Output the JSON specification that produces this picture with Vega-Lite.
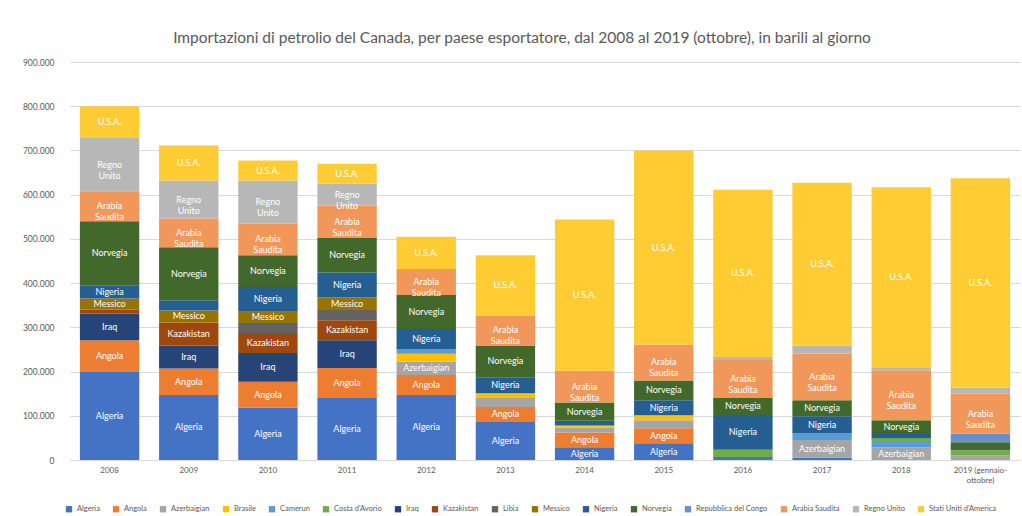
{
  "$schema": "https://vega.github.io/schema/vega-lite/v6.json",
  "autosize": {"type": "none"},
  "width": 950,
  "height": 398,
  "padding": {"left": 70, "top": 62, "right": 2, "bottom": 56},
  "background": "white",
  "config": {
    "locale": {"number": {"decimal": ",", "thousands": ".", "grouping": [3], "currency": ["€", ""]}},
    "font": "Lato",
    "view": {"stroke": null}
  },
  "title": {
    "text": "Importazioni di petrolio del Canada, per paese esportatore, dal 2008 al 2019 (ottobre), in barili al giorno",
    "fontSize": 15.5,
    "fontWeight": "normal",
    "color": "#595959",
    "anchor": "middle",
    "offset": 12,
    "dx": -23
  },
  "datasets": {
    "paesi": [
      {"paese": "Algeria", "n": 1, "etichetta": "Algeria"},
      {"paese": "Angola", "n": 2, "etichetta": "Angola"},
      {"paese": "Azerbaigian", "n": 3, "etichetta": "Azerbaigian"},
      {"paese": "Brasile", "n": 4, "etichetta": "Brasile"},
      {"paese": "Camerun", "n": 5, "etichetta": "Camerun"},
      {"paese": "Costa d'Avorio", "n": 6, "etichetta": "Costa d'Avorio"},
      {"paese": "Iraq", "n": 7, "etichetta": "Iraq"},
      {"paese": "Kazakistan", "n": 8, "etichetta": "Kazakistan"},
      {"paese": "Libia", "n": 9, "etichetta": "Libia"},
      {"paese": "Messico", "n": 10, "etichetta": "Messico"},
      {"paese": "Nigeria", "n": 11, "etichetta": "Nigeria"},
      {"paese": "Norvegia", "n": 12, "etichetta": "Norvegia"},
      {"paese": "Repubblica del Congo", "n": 13, "etichetta": "Congo"},
      {"paese": "Arabia Saudita", "n": 14, "etichetta": "Arabia Saudita"},
      {"paese": "Regno Unito", "n": 15, "etichetta": "Regno Unito"},
      {"paese": "Stati Uniti d'America", "n": 16, "etichetta": "U.S.A."}
    ]
  },
  "data": {
    "values": [
      {"anno": "2008", "paese": "Algeria", "bpd": 199000},
      {"anno": "2008", "paese": "Angola", "bpd": 72000},
      {"anno": "2008", "paese": "Iraq", "bpd": 60000},
      {"anno": "2008", "paese": "Kazakistan", "bpd": 9000},
      {"anno": "2008", "paese": "Messico", "bpd": 25000},
      {"anno": "2008", "paese": "Nigeria", "bpd": 30000},
      {"anno": "2008", "paese": "Norvegia", "bpd": 145000},
      {"anno": "2008", "paese": "Arabia Saudita", "bpd": 68000},
      {"anno": "2008", "paese": "Regno Unito", "bpd": 120000},
      {"anno": "2008", "paese": "Stati Uniti d'America", "bpd": 72000},

      {"anno": "2009", "paese": "Algeria", "bpd": 147000},
      {"anno": "2009", "paese": "Angola", "bpd": 60000},
      {"anno": "2009", "paese": "Iraq", "bpd": 52000},
      {"anno": "2009", "paese": "Kazakistan", "bpd": 52000},
      {"anno": "2009", "paese": "Messico", "bpd": 27000},
      {"anno": "2009", "paese": "Nigeria", "bpd": 23000},
      {"anno": "2009", "paese": "Norvegia", "bpd": 120000},
      {"anno": "2009", "paese": "Arabia Saudita", "bpd": 65000},
      {"anno": "2009", "paese": "Regno Unito", "bpd": 86000},
      {"anno": "2009", "paese": "Stati Uniti d'America", "bpd": 79000},

      {"anno": "2010", "paese": "Algeria", "bpd": 118000},
      {"anno": "2010", "paese": "Angola", "bpd": 59000},
      {"anno": "2010", "paese": "Iraq", "bpd": 65000},
      {"anno": "2010", "paese": "Kazakistan", "bpd": 45000},
      {"anno": "2010", "paese": "Libia", "bpd": 23000},
      {"anno": "2010", "paese": "Messico", "bpd": 25000},
      {"anno": "2010", "paese": "Nigeria", "bpd": 56000},
      {"anno": "2010", "paese": "Norvegia", "bpd": 72000},
      {"anno": "2010", "paese": "Arabia Saudita", "bpd": 72000},
      {"anno": "2010", "paese": "Regno Unito", "bpd": 97000},
      {"anno": "2010", "paese": "Stati Uniti d'America", "bpd": 45000},

      {"anno": "2011", "paese": "Algeria", "bpd": 140000},
      {"anno": "2011", "paese": "Angola", "bpd": 68000},
      {"anno": "2011", "paese": "Iraq", "bpd": 63000},
      {"anno": "2011", "paese": "Kazakistan", "bpd": 45000},
      {"anno": "2011", "paese": "Libia", "bpd": 23000},
      {"anno": "2011", "paese": "Messico", "bpd": 29000},
      {"anno": "2011", "paese": "Nigeria", "bpd": 56000},
      {"anno": "2011", "paese": "Norvegia", "bpd": 79000},
      {"anno": "2011", "paese": "Arabia Saudita", "bpd": 72000},
      {"anno": "2011", "paese": "Regno Unito", "bpd": 50000},
      {"anno": "2011", "paese": "Stati Uniti d'America", "bpd": 45000},

      {"anno": "2012", "paese": "Algeria", "bpd": 147000},
      {"anno": "2012", "paese": "Angola", "bpd": 45000},
      {"anno": "2012", "paese": "Azerbaigian", "bpd": 30000},
      {"anno": "2012", "paese": "Brasile", "bpd": 18000},
      {"anno": "2012", "paese": "Camerun", "bpd": 11000},
      {"anno": "2012", "paese": "Nigeria", "bpd": 45000},
      {"anno": "2012", "paese": "Norvegia", "bpd": 77000},
      {"anno": "2012", "paese": "Arabia Saudita", "bpd": 59000},
      {"anno": "2012", "paese": "Stati Uniti d'America", "bpd": 73000},

      {"anno": "2013", "paese": "Algeria", "bpd": 86000},
      {"anno": "2013", "paese": "Angola", "bpd": 34000},
      {"anno": "2013", "paese": "Azerbaigian", "bpd": 20000},
      {"anno": "2013", "paese": "Brasile", "bpd": 11000},
      {"anno": "2013", "paese": "Nigeria", "bpd": 36000},
      {"anno": "2013", "paese": "Norvegia", "bpd": 72000},
      {"anno": "2013", "paese": "Arabia Saudita", "bpd": 68000},
      {"anno": "2013", "paese": "Stati Uniti d'America", "bpd": 136000},

      {"anno": "2014", "paese": "Algeria", "bpd": 29000},
      {"anno": "2014", "paese": "Angola", "bpd": 33000},
      {"anno": "2014", "paese": "Azerbaigian", "bpd": 11000},
      {"anno": "2014", "paese": "Brasile", "bpd": 5000},
      {"anno": "2014", "paese": "Nigeria", "bpd": 11000},
      {"anno": "2014", "paese": "Norvegia", "bpd": 41000},
      {"anno": "2014", "paese": "Arabia Saudita", "bpd": 72000},
      {"anno": "2014", "paese": "Stati Uniti d'America", "bpd": 342000},

      {"anno": "2015", "paese": "Algeria", "bpd": 38000},
      {"anno": "2015", "paese": "Angola", "bpd": 34000},
      {"anno": "2015", "paese": "Azerbaigian", "bpd": 18000},
      {"anno": "2015", "paese": "Brasile", "bpd": 11000},
      {"anno": "2015", "paese": "Nigeria", "bpd": 34000},
      {"anno": "2015", "paese": "Norvegia", "bpd": 45000},
      {"anno": "2015", "paese": "Arabia Saudita", "bpd": 81000},
      {"anno": "2015", "paese": "Stati Uniti d'America", "bpd": 439000},

      {"anno": "2016", "paese": "Algeria", "bpd": 7000},
      {"anno": "2016", "paese": "Costa d'Avorio", "bpd": 16000},
      {"anno": "2016", "paese": "Nigeria", "bpd": 79000},
      {"anno": "2016", "paese": "Norvegia", "bpd": 38000},
      {"anno": "2016", "paese": "Arabia Saudita", "bpd": 86000},
      {"anno": "2016", "paese": "Regno Unito", "bpd": 7000},
      {"anno": "2016", "paese": "Stati Uniti d'America", "bpd": 378000},

      {"anno": "2017", "paese": "Algeria", "bpd": 5000},
      {"anno": "2017", "paese": "Azerbaigian", "bpd": 40000},
      {"anno": "2017", "paese": "Camerun", "bpd": 16000},
      {"anno": "2017", "paese": "Nigeria", "bpd": 38000},
      {"anno": "2017", "paese": "Norvegia", "bpd": 36000},
      {"anno": "2017", "paese": "Arabia Saudita", "bpd": 106000},
      {"anno": "2017", "paese": "Regno Unito", "bpd": 18000},
      {"anno": "2017", "paese": "Stati Uniti d'America", "bpd": 368000},

      {"anno": "2018", "paese": "Azerbaigian", "bpd": 29000},
      {"anno": "2018", "paese": "Camerun", "bpd": 14000},
      {"anno": "2018", "paese": "Costa d'Avorio", "bpd": 7000},
      {"anno": "2018", "paese": "Nigeria", "bpd": 11000},
      {"anno": "2018", "paese": "Norvegia", "bpd": 29000},
      {"anno": "2018", "paese": "Arabia Saudita", "bpd": 113000},
      {"anno": "2018", "paese": "Regno Unito", "bpd": 7000},
      {"anno": "2018", "paese": "Stati Uniti d'America", "bpd": 407000},

      {"anno": "2019", "paese": "Azerbaigian", "bpd": 11000},
      {"anno": "2019", "paese": "Costa d'Avorio", "bpd": 11000},
      {"anno": "2019", "paese": "Norvegia", "bpd": 18000},
      {"anno": "2019", "paese": "Repubblica del Congo", "bpd": 20000},
      {"anno": "2019", "paese": "Arabia Saudita", "bpd": 90000},
      {"anno": "2019", "paese": "Regno Unito", "bpd": 14000},
      {"anno": "2019", "paese": "Stati Uniti d'America", "bpd": 473000}
    ]
  },
  "transform": [
    {"lookup": "paese", "from": {"data": {"name": "paesi"}, "key": "paese", "fields": ["n", "etichetta"]}}
  ],
  "layer": [
    {
      "mark": {"type": "bar"},
      "encoding": {
        "x": {
          "field": "anno", "type": "nominal",
          "scale": {"domain": ["2008","2009","2010","2011","2012","2013","2014","2015","2016","2017","2018","2019"], "paddingInner": 0.25, "paddingOuter": 0.125},
          "axis": {"title": null, "labelAngle": 0, "labelFontSize": 8, "labelColor": "#595959", "ticks": false, "domain": true, "domainColor": "#D9D9D9", "labelPadding": 6,
                   "labelExpr": "datum.value == '2019' ? ['2019 (gennaio-', 'ottobre)'] : datum.value"}
        },
        "y": {
          "field": "bpd", "type": "quantitative", "stack": "zero",
          "scale": {"domain": [0, 900000], "nice": false},
          "axis": {"title": null, "values": [0,100000,200000,300000,400000,500000,600000,700000,800000,900000], "format": ",d", "labelFontSize": 8.5, "labelColor": "#595959", "ticks": false, "domain": false, "gridColor": "#D9D9D9", "labelPadding": 16}
        },
        "order": {"field": "n", "type": "quantitative", "sort": "ascending"},
        "color": {
          "field": "paese", "type": "nominal",
          "scale": {
            "domain": ["Algeria","Angola","Azerbaigian","Brasile","Camerun","Costa d'Avorio","Iraq","Kazakistan","Libia","Messico","Nigeria","Norvegia","Repubblica del Congo","Arabia Saudita","Regno Unito","Stati Uniti d'America"],
            "range": ["#4472C4","#ED7D31","#A5A5A5","#FFC000","#5B9BD5","#70AD47","#264478","#9E480E","#636363","#997300","#255E91","#43682B","#698ED0","#F1975A","#B7B7B7","#FFCD33"]
          },
          "legend": {"title": null, "orient": "none", "legendX": -5, "legendY": 443, "direction": "horizontal", "columns": 16, "symbolType": "square", "symbolSize": 40, "labelFontSize": 7.5, "labelColor": "#595959", "columnPadding": 12, "labelLimit": 200}
        }
      }
    },
    {
      "transform": [
        {"stack": "bpd", "groupby": ["anno"], "sort": [{"field": "n", "order": "ascending"}], "as": ["y0", "y1"]},
        {"filter": "datum.bpd >= 25000"},
        {"fold": ["y0", "y1"], "as": ["estremo", "yv"]}
      ],
      "mark": {"type": "text", "color": "white", "fontSize": 9, "lineBreak": " ", "baseline": "middle", "align": "center"},
      "encoding": {
        "x": {"field": "anno", "type": "nominal"},
        "y": {"aggregate": "mean", "field": "yv", "type": "quantitative", "title": null},
        "detail": {"field": "paese", "type": "nominal"},
        "text": {"field": "etichetta", "type": "nominal"}
      }
    }
  ]
}
